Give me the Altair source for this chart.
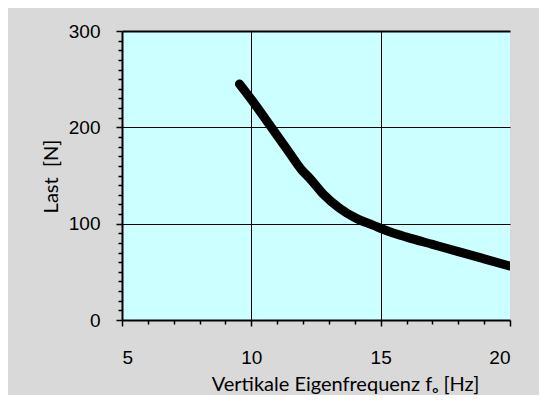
import altair as alt
import pandas as pd

freq = [9.54, 10.08, 10.72, 11.36, 11.94, 12.26, 12.77, 13.42, 14.06, 14.70, 15.35, 16.0, 17.0, 18.0, 19.0, 20.0]
last = [245, 226, 202, 178, 156, 147, 131, 116, 105.5, 98.5, 91.5, 86, 78.5, 71, 63.5, 56]

x_ticks = list(range(5, 21))
y_ticks = list(range(0, 301, 10))

df = pd.DataFrame({"f": freq, "last": last})

FONT_NUM = "Liberation Sans"
FONT_TITLE = "Lato"

x_axis = alt.Axis(
    values=x_ticks,
    labelExpr="datum.value % 5 == 0 ? datum.label : ''",
    labelFont=FONT_NUM, labelFontSize=19, labelColor="black", labelPadding=22,
    domainColor="black", domainWidth=2,
    tickColor="black", tickWidth=1.5,
    tickSize={"condition": {"test": "datum.value % 5 == 0", "value": 6}, "value": 4},
    grid=True, gridColor="black", gridWidth=1,
    gridOpacity={"condition": {"test": "datum.value == 10 || datum.value == 15", "value": 1}, "value": 0},
    title="Vertikale Eigenfrequenz fₒ [Hz]",
    titleFont=FONT_TITLE, titleFontSize=20, titleFontWeight="normal", titleColor="black",
    titleX=223, titleY=70, titleBaseline="alphabetic", titleAlign="center",
)

y_axis = alt.Axis(
    values=y_ticks,
    labelExpr="datum.value % 100 == 0 ? datum.label : ''",
    labelFont=FONT_NUM, labelFontSize=19, labelColor="black", labelPadding=16,
    domainColor="black", domainWidth=2,
    tickColor="black", tickWidth=1.5,
    tickSize={"condition": {"test": "datum.value % 100 == 0", "value": 6}, "value": 4},
    grid=True, gridColor="black",
    gridWidth={"condition": {"test": "datum.value == 300", "value": 2}, "value": 1},
    gridOpacity={"condition": {"test": "datum.value % 100 == 0 && datum.value > 0", "value": 1}, "value": 0},
    title="Last\u00a0\u00a0[N]",
    titleFont=FONT_TITLE, titleFontSize=20, titleFontWeight="normal", titleColor="black",
    titleX=-71, titleY=145, titleAlign="center", titleBaseline="middle", titleAngle=270,
)

chart = alt.Chart(df).mark_line(
    color="black", strokeWidth=9, strokeCap="round", strokeJoin="round",
    interpolate="monotone", clip=True,
).encode(
    x=alt.X("f:Q", scale=alt.Scale(domain=[5, 20], nice=False, zero=False), axis=x_axis),
    y=alt.Y("last:Q", scale=alt.Scale(domain=[0, 300], nice=False), axis=y_axis),
).properties(
    width=388, height=289,
    background="#d9d9d9",
    autosize=alt.AutoSizeParams(type="none"),
    padding={"left": 114, "top": 23, "right": 29, "bottom": 75},
).configure_view(
    fill="#ccffff", stroke=None,
)

chart.save("out.html", embed_options={"renderer": "svg", "actions": False})
